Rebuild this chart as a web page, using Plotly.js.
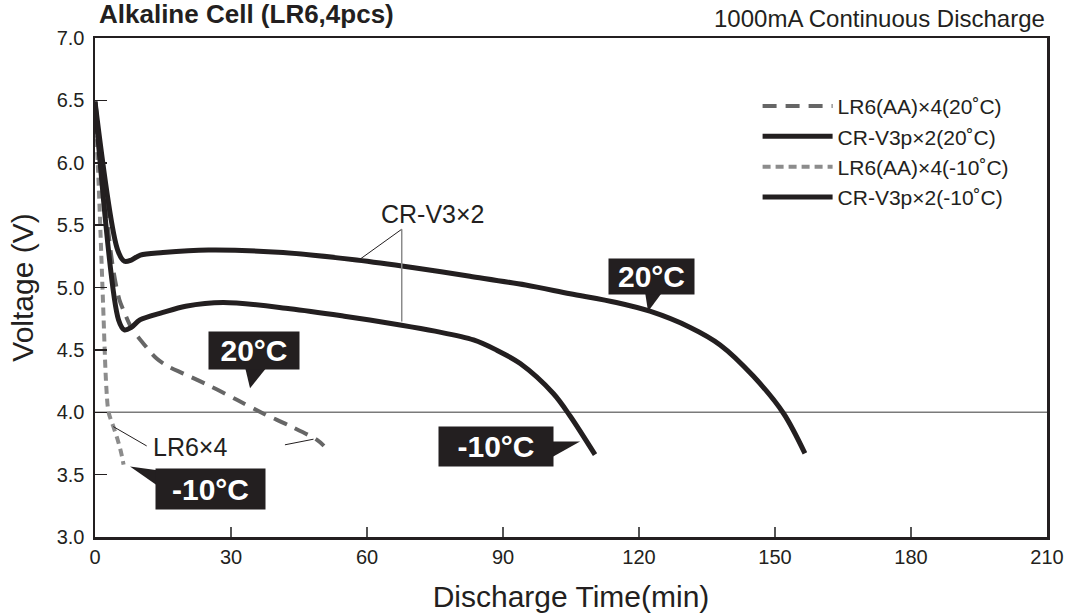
<!DOCTYPE html>
<html>
<head>
<meta charset="utf-8">
<script src="https://cdn.plot.ly/plotly-3.0.1.min.js"></script>
<style>html,body{margin:0;padding:0;background:#fff;}#chart{width:1070px;height:614px;}</style>
</head>
<body>
<div id="chart"></div>
<script>
// ---- data ----
const seriesNames = ['LR6(AA)×4(20˚C)', 'CR-V3p×2(20˚C)', 'LR6(AA)×4(-10˚C)', 'CR-V3p×2(-10˚C)'];

const lr6_20_t = [0, 2, 4, 5.4, 6.5, 8, 10.7, 13.6, 16, 19.5, 25.4, 31.3, 37.1, 43, 48.9, 50.5];
const lr6_20_v = [6.40, 5.75, 5.15, 4.90, 4.80, 4.68, 4.55, 4.43, 4.37, 4.31, 4.21, 4.10, 3.99, 3.89, 3.78, 3.73];

const cr_20_t = [0, 5, 6.5, 8, 10, 15, 25, 41.5, 57.7, 70, 82.7, 95, 104.8, 115, 122.4, 131.3, 137.9, 145.2, 151.9, 156.6];
const cr_20_v = [6.49, 5.30, 5.21, 5.22, 5.26, 5.28, 5.30, 5.28, 5.22, 5.16, 5.09, 5.02, 4.95, 4.88, 4.81, 4.68, 4.54, 4.29, 3.99, 3.67];

const lr6_m10_t = [0, 0.7, 1.4, 1.8, 2.5, 3.0, 4.0, 5.0, 5.8, 6.3];
const lr6_m10_v = [6.40, 5.92, 5.25, 4.85, 4.20, 4.00, 3.89, 3.78, 3.67, 3.58];

const cr_m10_t = [0, 5.2, 6.5, 8, 9.9, 15, 20, 28.3, 43, 55, 67.3, 75, 83.5, 88.5, 93.8, 101.1, 104.8, 110.3];
const cr_m10_v = [6.49, 4.74, 4.66, 4.68, 4.74, 4.80, 4.85, 4.88, 4.83, 4.77, 4.70, 4.65, 4.58, 4.50, 4.39, 4.15, 3.97, 3.66];

const xTicks = [0, 30, 60, 90, 120, 150, 180, 210];
const yTicks = [3.0, 3.5, 4.0, 4.5, 5.0, 5.5, 6.0, 6.5, 7.0];
const calloutLabels = ['20°C', '20°C', '-10°C', '-10°C'];

// ---- styling ----
const INK = '#231f20';
const FONT = 'Liberation Sans, Arial, Helvetica, sans-serif';
const SMOOTH = 0.9;

const traces = [
  {x: lr6_20_t, y: lr6_20_v, name: seriesNames[0], legendrank: 1,
   line: {color: '#666666', width: 4, dash: '14px,9px', shape: 'spline', smoothing: SMOOTH}},
  {x: lr6_m10_t, y: lr6_m10_v, name: seriesNames[2], legendrank: 3,
   line: {color: '#8c8c8c', width: 4, dash: '8px,5px', shape: 'spline', smoothing: SMOOTH}},
  {x: cr_20_t, y: cr_20_v, name: seriesNames[1], legendrank: 2,
   line: {color: INK, width: 5, shape: 'spline', smoothing: SMOOTH}},
  {x: cr_m10_t, y: cr_m10_v, name: seriesNames[3], legendrank: 4,
   line: {color: INK, width: 5, shape: 'spline', smoothing: SMOOTH}}
].map(t => Object.assign({type: 'scatter', mode: 'lines', hoverinfo: 'skip'}, t));

function callout(i, x, y, w, h) {
  return {xref: 'x', yref: 'y', x: x, y: y, text: '<b>' + calloutLabels[i] + '</b>',
    showarrow: false, bgcolor: INK, width: w, height: h, align: 'center', valign: 'middle',
    font: {family: FONT, size: 30, color: '#ffffff'}};
}
function wedge(path) {
  return {type: 'path', xref: 'x', yref: 'y', path: path, fillcolor: INK, line: {width: 0}};
}
function leader(x0, y0, x1, y1, color, width) {
  return {type: 'line', xref: 'x', yref: 'y', x0: x0, y0: y0, x1: x1, y1: y1,
    line: {color: color, width: width}};
}

const layout = {
  width: 1070, height: 614,
  margin: {l: 95, r: 23, t: 38, b: 77, pad: 0},
  paper_bgcolor: '#ffffff', plot_bgcolor: '#ffffff',
  font: {family: FONT, color: INK},
  showlegend: true,
  legend: {x: 0.696, y: 0.904, xanchor: 'left', yanchor: 'top', bgcolor: 'rgba(0,0,0,0)',
    itemwidth: 70, font: {family: FONT, size: 21, color: INK}},
  xaxis: {range: [0, 210], tickvals: xTicks, ticktext: xTicks.map(String),
    ticks: 'inside', ticklen: 10, tickwidth: 1.5, tickcolor: '#555',
    showline: true, linewidth: 2.5, linecolor: INK, mirror: true,
    showgrid: false, zeroline: false, fixedrange: true,
    tickfont: {family: FONT, size: 20, color: INK},
    title: {text: 'Discharge Time(min)', standoff: 20, font: {family: FONT, size: 30, color: INK}}},
  yaxis: {range: [3, 7], tickvals: yTicks, ticktext: yTicks.map(v => v.toFixed(1)),
    ticks: 'inside', ticklen: 12, tickwidth: 1.5, tickcolor: INK,
    showline: true, linewidth: 2.5, linecolor: INK, mirror: true,
    showgrid: false, zeroline: false, fixedrange: true,
    ticklabelstandoff: 4,
    tickfont: {family: FONT, size: 20, color: INK},
    title: {text: 'Voltage (V)', standoff: 14, font: {family: FONT, size: 30, color: INK}}},
  shapes: [
    {type: 'line', xref: 'paper', yref: 'y', x0: 0, x1: 1, y0: 4, y1: 4, layer: 'below',
     line: {color: '#7a7a7a', width: 1.5}},
    leader(67.66, 5.467, 58.46, 5.227, INK, 1),
    leader(67.66, 5.467, 67.66, 4.727, '#8a8a8a', 1.5),
    leader(4.04, 3.885, 11.4, 3.73, INK, 1),
    leader(41.9, 3.739, 48.2, 3.784, INK, 1),
    wedge('M 121.3,4.97 L 125.3,4.97 L 122.0,4.807 Z'),
    wedge('M 33.1,4.36 L 37.9,4.36 L 34.2,4.193 Z'),
    wedge('M 100.4,3.765 L 107.0,3.765 L 100.4,3.632 Z'),
    wedge('M 7.72,3.565 L 14.2,3.533 L 14.2,3.40 Z')
  ],
  annotations: [
    {xref: 'paper', yref: 'paper', x: 0.002, y: 1.048, xanchor: 'left', yanchor: 'middle',
     showarrow: false, text: '<b>Alkaline Cell (LR6,4pcs)</b>',
     font: {family: FONT, size: 26, color: INK}},
    {xref: 'paper', yref: 'paper', x: 1, y: 1.040, xanchor: 'right', yanchor: 'middle',
     showarrow: false, text: '1000mA Continuous Discharge',
     font: {family: FONT, size: 24, color: INK}},
    {xref: 'x', yref: 'y', x: 74.5, y: 5.59, showarrow: false, text: 'CR-V3×2',
     font: {family: FONT, size: 25, color: INK}},
    {xref: 'x', yref: 'y', x: 20.96, y: 3.72, showarrow: false, text: 'LR6×4',
     font: {family: FONT, size: 25, color: INK}},
    callout(0, 122.8, 5.089, 83, 33),
    callout(1, 35.1, 4.494, 88, 35),
    callout(2, 88.35, 3.725, 112, 37),
    callout(3, 25.5, 3.382, 107, 38)
  ]
};

Plotly.newPlot('chart', traces, layout, {staticPlot: true, displayModeBar: false});
</script>
</body>
</html>
